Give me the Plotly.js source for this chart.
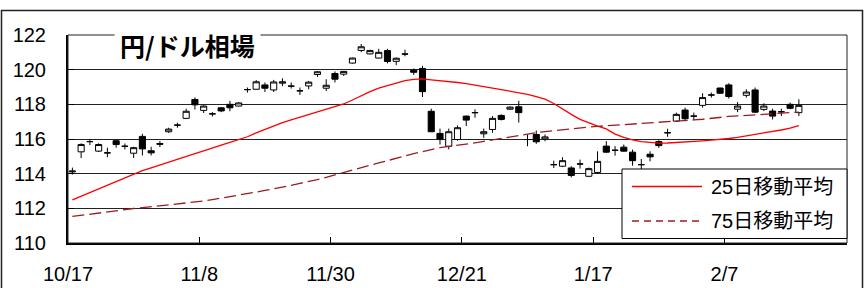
<!DOCTYPE html>
<html>
<head>
<meta charset="utf-8">
<script src="https://cdn.plot.ly/plotly-3.0.1.min.js"></script>
<style>html,body{margin:0;padding:0;background:#fff;}#chart{width:864px;height:288px;}</style>
</head>
<body>
<div id="chart"></div>
<script>
// Trading days (category axis)
const dates = ['10/17','10/18','10/19','10/20','10/21','10/24','10/25','10/26','10/27','10/28','10/31',
 '11/1','11/2','11/4','11/7','11/8','11/9','11/10','11/11','11/14','11/15','11/16','11/17','11/18','11/21','11/22','11/24','11/25','11/28','11/29','11/30',
 '12/1','12/2','12/5','12/6','12/7','12/8','12/9','12/12','12/13','12/14','12/15','12/16','12/19','12/20','12/21','12/22','12/26','12/27','12/28','12/29','12/30',
 '1/4','1/5','1/6','1/10','1/11','1/12','1/13','1/16','1/17','1/18','1/19','1/20','1/23','1/24','1/25','1/26','1/27','1/30','1/31',
 '2/1','2/2','2/3','2/6','2/7','2/8','2/9','2/10','2/13','2/14','2/15','2/16','2/17'];
const tickLabels = ['10/17','11/8','11/30','12/21','1/17','2/7'];

const openV = [114.10,115.26,115.85,115.30,115.20,115.90,115.58,115.18,116.15,115.32,115.74,
 116.42,116.80,117.19,118.28,117.65,117.45,117.80,118.00,117.90,118.85,118.87,119.12,118.83,119.22,119.05,118.78,119.06,119.72,118.93,119.78,
 119.74,120.38,121.11,120.91,120.67,121.10,120.48,120.90,119.97,120.07,117.60,116.32,115.58,115.97,117.32,117.52,116.30,116.55,117.36,117.72,117.86,
 115.97,116.26,116.00,114.52,114.43,114.33,114.56,113.85,114.07,115.59,115.35,115.53,115.24,114.52,115.12,115.85,116.36,117.03,117.67,
 117.32,117.94,118.54,118.94,119.12,117.72,118.52,118.83,117.71,117.61,117.57,118.00,117.52];
const highV = [114.35,115.75,116.00,115.75,115.50,115.95,115.74,115.55,116.30,115.55,115.88,
 116.65,116.94,117.75,118.40,117.95,117.55,117.85,118.20,118.12,118.97,119.40,119.26,119.41,119.50,119.26,118.97,119.35,119.92,119.45,119.90,
 119.92,120.70,121.48,121.15,121.20,121.20,120.70,121.15,120.07,120.22,117.75,116.60,116.60,116.78,117.35,117.71,116.60,117.32,117.42,117.88,118.20,
 116.26,116.49,116.26,114.75,114.95,114.43,114.81,114.35,115.29,115.88,115.59,115.68,115.39,114.85,115.29,115.93,116.59,117.52,117.81,
 117.52,118.64,118.68,118.97,119.22,118.13,118.87,118.97,118.06,117.75,117.75,118.10,118.29];
const lowV = [113.95,114.90,115.65,115.25,114.95,115.50,115.40,114.90,115.05,115.05,115.53,
 116.35,116.65,117.15,117.70,117.50,117.30,117.55,117.60,117.88,118.68,118.85,118.71,118.71,119.05,118.91,118.54,118.87,119.58,118.77,119.26,
 119.64,120.35,121.01,120.88,120.65,120.36,120.26,120.77,119.70,118.42,116.40,115.68,115.40,115.90,116.75,117.23,116.07,116.36,117.07,117.68,116.95,
 115.58,115.72,115.87,114.33,114.38,113.79,114.29,113.80,114.00,115.20,115.04,115.28,114.46,114.27,114.71,115.49,116.13,117.00,117.03,
 117.09,117.81,118.39,118.60,118.33,117.55,118.39,117.50,117.61,117.13,117.32,117.71,117.32];
const closeV = [114.15,115.68,115.85,115.68,115.20,115.68,115.58,115.50,115.43,115.20,115.70,
 116.57,116.80,117.60,117.97,117.90,117.45,117.62,117.80,118.08,118.85,119.30,118.93,119.29,119.30,119.05,118.78,119.28,119.88,119.10,119.45,
 119.90,120.67,121.32,121.10,121.00,120.47,120.66,120.90,119.85,118.73,116.42,116.00,116.42,116.65,117.09,117.52,116.42,117.19,117.13,117.84,117.52,
 115.97,115.84,116.12,114.52,114.75,113.90,114.56,114.29,114.71,115.24,115.35,115.30,114.75,114.52,114.97,115.62,116.36,117.42,117.17,
 117.32,118.39,118.54,118.64,118.45,117.90,118.71,117.55,117.90,117.32,117.57,117.77,117.94];

const ma25 = [112.49,112.70,112.93,113.15,113.36,113.57,113.79,114.00,114.17,114.34,114.51,
 114.68,114.85,115.00,115.15,115.31,115.49,115.64,115.80,115.97,116.13,116.35,116.56,116.77,116.95,117.11,117.26,117.43,117.57,117.70,117.86,
 118.02,118.25,118.50,118.73,118.93,119.08,119.22,119.37,119.44,119.47,119.41,119.37,119.32,119.26,119.20,119.10,119.02,118.94,118.85,118.77,118.69,
 118.58,118.44,118.30,118.05,117.72,117.42,117.13,116.92,116.74,116.58,116.28,116.10,115.95,115.85,115.79,115.76,115.77,115.79,115.82,
 115.86,115.89,115.93,115.97,116.03,116.10,116.18,116.26,116.34,116.42,116.52,116.63,116.77];
const ma75 = [111.53,111.60,111.66,111.73,111.79,111.86,111.92,111.99,112.04,112.09,112.14,
 112.19,112.24,112.30,112.36,112.42,112.50,112.58,112.67,112.76,112.85,112.94,113.03,113.12,113.22,113.33,113.44,113.54,113.66,113.79,113.92,
 114.06,114.20,114.34,114.48,114.62,114.76,114.89,115.02,115.15,115.27,115.39,115.50,115.57,115.63,115.70,115.78,115.86,115.95,116.04,116.12,116.21,
 116.30,116.37,116.43,116.49,116.54,116.59,116.64,116.69,116.73,116.76,116.80,116.83,116.87,116.90,116.93,116.96,116.99,117.02,117.05,
 117.10,117.14,117.20,117.26,117.30,117.33,117.36,117.39,117.42,117.45,117.48,117.51,117.55];

const seriesNames = ['25日移動平均', '75日移動平均'];
const chartTitle = '円/ドル相場';

const xIdx = dates.map((d, i) => i);
const tickVals = tickLabels.map(l => dates.indexOf(l) - 0.5);

const ma25Color = '#ff0000';
const ma75Color = '#9c1c1c';
const ma75Dash = '12px,5px';

const traces = [
  {
    type: 'candlestick', x: xIdx, open: openV, high: highV, low: lowV, close: closeV,
    increasing: {line: {color: '#000', width: 1}, fillcolor: '#ffffff'},
    decreasing: {line: {color: '#000', width: 1}, fillcolor: '#000000'},
    whiskerwidth: 0, showlegend: false, hoverinfo: 'skip'
  },
  {type: 'scatter', mode: 'lines', x: xIdx, y: ma25, name: seriesNames[0],
   line: {color: ma25Color, width: 1.3}, showlegend: false},
  {type: 'scatter', mode: 'lines', x: xIdx, y: ma75, name: seriesNames[1],
   line: {color: ma75Color, width: 1.3, dash: ma75Dash}, showlegend: false}
];

// plot area geometry (px) for paper conversions
const L = 68, R = 847, T = 35, B = 243;
const W = R - L, H = B - T;
const px = x => (x - L) / W;
const py = y => (B - y) / H;

const layout = {
  width: 864, height: 288,
  margin: {l: L, r: 864 - R, t: T, b: 288 - B, pad: 0},
  paper_bgcolor: '#ffffff', plot_bgcolor: '#ffffff',
  showlegend: false,
  boxgap: 0.0,
  font: {family: 'Liberation Sans, Arial, sans-serif', color: '#000'},
  xaxis: {
    type: 'linear', range: [-0.5, 88.5], fixedrange: true,
    tickmode: 'array', tickvals: tickVals, ticktext: tickLabels,
    ticks: 'inside', ticklen: 6, tickcolor: '#000', tickwidth: 1,
    showgrid: false, zeroline: false,
    showline: true, linecolor: '#000', linewidth: 2,
    tickfont: {size: 20, family: 'Liberation Sans, Arial, sans-serif', color: '#000'},
    ticklabelstandoff: 12,
    rangeslider: {visible: false}
  },
  yaxis: {
    range: [110, 122], dtick: 2, tick0: 110, fixedrange: true,
    ticks: 'inside', ticklen: 6, tickcolor: '#000', tickwidth: 1,
    showgrid: true, gridcolor: '#222', gridwidth: 1,
    zeroline: false,
    showline: true, linecolor: '#000', linewidth: 2,
    tickfont: {size: 20, family: 'Liberation Sans, Arial, sans-serif', color: '#000'},
    ticklabelstandoff: 16
  },
  shapes: [
    // outer chart frame
    {type: 'rect', xref: 'paper', yref: 'paper', x0: px(1.5), x1: px(862.5), y0: py(295), y1: py(10.5),
     line: {color: '#222', width: 1.5}, fillcolor: 'rgba(0,0,0,0)', layer: 'below'},
    // plot area border
    {type: 'rect', xref: 'paper', yref: 'paper', x0: 0, x1: 1, y0: 0, y1: 1,
     line: {color: '#222', width: 1}, fillcolor: 'rgba(0,0,0,0)'},
    // legend box
    {type: 'rect', xref: 'paper', yref: 'paper', x0: px(622), x1: 1, y0: py(238.5), y1: py(169),
     line: {color: '#000', width: 1}, fillcolor: '#ffffff'},
    {type: 'line', xref: 'paper', yref: 'paper', x0: px(632), x1: px(702), y0: py(186.5), y1: py(186.5),
     line: {color: ma25Color, width: 1.3}},
    {type: 'line', xref: 'paper', yref: 'paper', x0: px(632), x1: px(702), y0: py(221), y1: py(221),
     line: {color: ma75Color, width: 1.3, dash: '7px,5px'}}
  ],
  annotations: [
    {xref: 'paper', yref: 'paper', x: px(187), y: py(45), xanchor: 'center', yanchor: 'middle',
     text: '<b>' + chartTitle + '</b>', showarrow: false, bgcolor: '#ffffff', borderpad: 5,
     font: {size: 25, family: 'Noto Sans CJK JP, sans-serif', color: '#000'}},
    {xref: 'paper', yref: 'paper', x: px(709), y: py(186.5), xanchor: 'left', yanchor: 'middle',
     text: seriesNames[0], showarrow: false,
     font: {size: 20, family: 'Liberation Sans, Noto Sans CJK JP, sans-serif', color: '#000'}},
    {xref: 'paper', yref: 'paper', x: px(709), y: py(221), xanchor: 'left', yanchor: 'middle',
     text: seriesNames[1], showarrow: false,
     font: {size: 20, family: 'Liberation Sans, Noto Sans CJK JP, sans-serif', color: '#000'}}
  ]
};

Plotly.newPlot('chart', traces, layout, {staticPlot: true, displayModeBar: false});
</script>
</body>
</html>
